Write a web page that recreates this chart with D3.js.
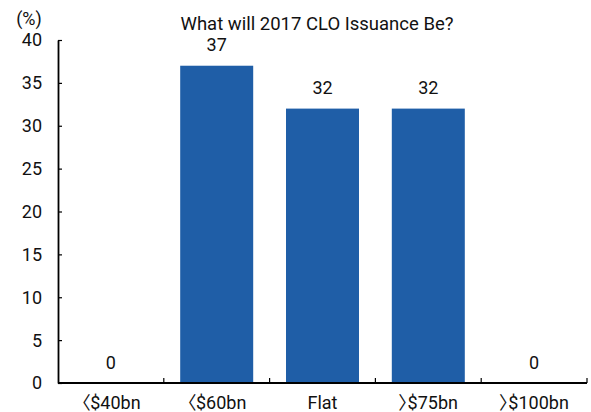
<!DOCTYPE html>
<html>
<head>
<meta charset="utf-8">
<script src="https://cdn.jsdelivr.net/npm/d3@7"></script>
<style>
  body { margin: 0; background: #fff; }
  svg { display: block; font-family: Roboto, "Noto Sans CJK KR", sans-serif; }
  /* proportional widths for the CJK angle brackets */
  .cat { font-feature-settings: "palt"; }
</style>
</head>
<body>
<svg id="chart" width="591" height="412"></svg>
<script>
// Survey responses: share of respondents per expected issuance range
const categories = ["〈$40bn", "〈$60bn", "Flat", "〉$75bn", "〉$100bn"];
const shares = [0, 37, 32, 32, 0];
const yTicks = [0, 5, 10, 15, 20, 25, 30, 35, 40];
const title = "What will 2017 CLO Issuance Be?";
const unitLabel = "(%)";

const svg = d3.select("#chart");
const margin = { left: 58, right: 4, top: 40, bottom: 29 };
const W = 591, H = 412;
const FS = 18;

const x = d3.scaleBand()
  .domain(categories)
  .range([margin.left, W - margin.right])
  .paddingInner(0.31)
  .paddingOuter(0.155);

const y = d3.scaleLinear()
  .domain([0, 40])
  .range([H - margin.bottom, margin.top]);

// bars
svg.append("g")
  .selectAll("rect")
  .data(categories)
  .join("rect")
  .attr("x", d => x(d))
  .attr("width", x.bandwidth())
  .attr("y", (d, i) => y(shares[i]))
  .attr("height", (d, i) => y(0) - y(shares[i]))
  .attr("fill", "#1f5ea7");

// value labels
svg.append("g")
  .selectAll("text")
  .data(categories)
  .join("text")
  .attr("x", d => x(d) + x.bandwidth() / 2)
  .attr("y", (d, i) => y(shares[i]) - 14.5)
  .attr("text-anchor", "middle")
  .attr("font-size", FS)
  .attr("fill", "#111")
  .text((d, i) => shares[i]);

// y axis (ticks point inward)
const yAxis = svg.append("g")
  .attr("transform", `translate(${margin.left},0)`)
  .call(d3.axisRight(y).tickValues(yTicks).tickSize(4).tickSizeOuter(0).tickFormat(""));
yAxis.select(".domain").attr("stroke", "#000").attr("stroke-width", 1.8);
yAxis.selectAll(".tick line").attr("stroke", "#000").attr("stroke-width", 1.2);

svg.append("g")
  .selectAll("text")
  .data(yTicks)
  .join("text")
  .attr("x", 42)
  .attr("y", d => y(d))
  .attr("dy", "0.36em")
  .attr("text-anchor", "end")
  .attr("font-size", FS)
  .attr("fill", "#111")
  .text(d => d);

// x axis with boundary ticks pointing up
const xBase = y(0);
const boundaries = categories.map(c => x(c) - x.step() * x.paddingInner() / 2).slice(1)
  .concat([W - margin.right]);
const xAxis = svg.append("g");
xAxis.append("line")
  .attr("x1", margin.left).attr("x2", W - margin.right)
  .attr("y1", xBase).attr("y2", xBase)
  .attr("stroke", "#000").attr("stroke-width", 2);
xAxis.selectAll("line.tick")
  .data(boundaries)
  .join("line")
  .attr("class", "tick")
  .attr("x1", d => d).attr("x2", d => d)
  .attr("y1", xBase).attr("y2", xBase - 5)
  .attr("stroke", "#000").attr("stroke-width", 1.2);

xAxis.selectAll("text")
  .data(categories)
  .join("text")
  .attr("class", "cat")
  .attr("x", d => x(d) + x.bandwidth() / 2)
  .attr("y", xBase + 25.5)
  .attr("text-anchor", "middle")
  .attr("font-size", FS)
  .attr("fill", "#111")
  .text(d => d);

// title and unit
svg.append("text")
  .attr("x", 317).attr("y", 30)
  .attr("text-anchor", "middle")
  .attr("font-size", 18.5)
  .attr("fill", "#111")
  .text(title);

svg.append("text")
  .attr("x", 29).attr("y", 25)
  .attr("text-anchor", "middle")
  .attr("font-size", FS)
  .attr("fill", "#111")
  .text(unitLabel);
</script>
</body>
</html>
